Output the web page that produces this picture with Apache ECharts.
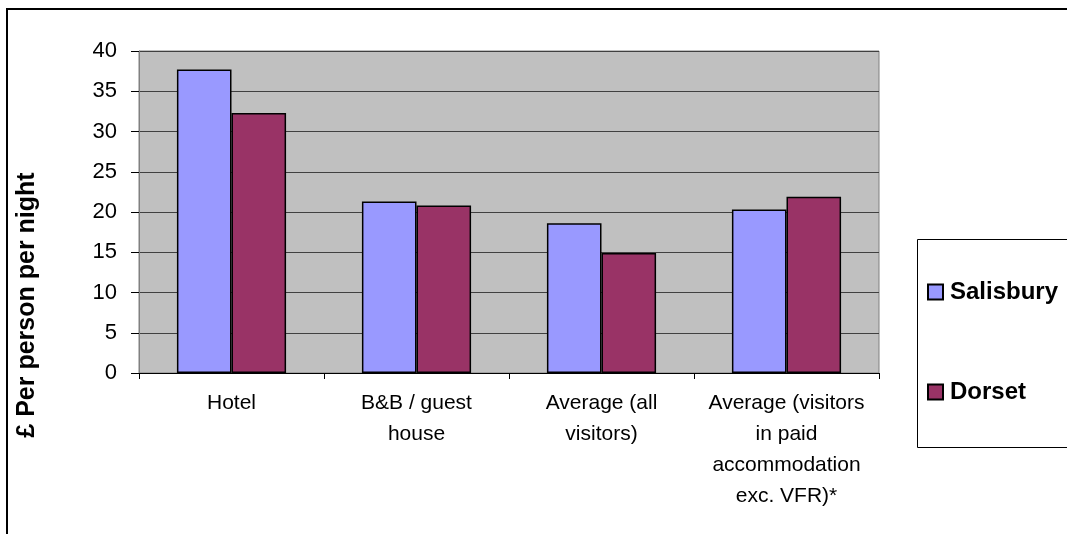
<!DOCTYPE html>
<html>
<head>
<meta charset="utf-8">
<script src="https://cdn.jsdelivr.net/npm/echarts@6/dist/echarts.min.js"></script>
<style>html,body{margin:0;padding:0;background:#fff}#c{width:1067px;height:534px}</style>
</head>
<body>
<div id="c"></div>
<script>
const categories = ["Hotel", "B&B / guest\nhouse", "Average (all\nvisitors)", "Average (visitors\nin paid\naccommodation\nexc. VFR)*"];
const salisbury = [37.7, 21.3, 18.6, 20.3];
const dorset = [32.3, 20.8, 14.9, 21.9];
const yTicks = { min: 0, max: 40, interval: 5 };
const yTitle = "£ Per person per night";

const FONT = "Arial, 'Liberation Sans', sans-serif";
const chart = echarts.init(document.getElementById('c'), null, { renderer: 'canvas' });
chart.setOption({
  animation: false,
  backgroundColor: '#ffffff',
  grid: {
    left: 139, right: 188, top: 51, bottom: 161,
    show: true, backgroundColor: '#c0c0c0', borderColor: '#808080', borderWidth: 1
  },
  legend: {
    orient: 'vertical',
    left: 927, top: 279, padding: 0,
    itemWidth: 15, itemHeight: 15, itemGap: 74,
    icon: 'rect',
    textStyle: { fontFamily: FONT, fontSize: 24, fontWeight: 'bold', color: '#000', lineHeight: 26, padding: [0, 0, 0, 2] },
    data: ['Salisbury', 'Dorset']
  },
  xAxis: {
    type: 'category',
    data: categories,
    axisLine: { lineStyle: { color: '#000', width: 1 } },
    axisTick: { show: true, length: 6, lineStyle: { color: '#000' } },
    axisLabel: { fontFamily: FONT, fontSize: 21, color: '#000', lineHeight: 31, margin: 15, interval: 0 },
    splitLine: { show: false }
  },
  yAxis: {
    type: 'value',
    min: yTicks.min, max: yTicks.max, interval: yTicks.interval,
    axisLine: { show: true, lineStyle: { color: '#808080', width: 1 } },
    axisTick: { show: true, length: 8, lineStyle: { color: '#000' } },
    axisLabel: { fontFamily: FONT, fontSize: 22, color: '#000', margin: 22 },
    splitLine: { show: true, lineStyle: { color: '#404040', width: 1 } }
  },
  series: [
    {
      name: 'Salisbury', type: 'bar', data: salisbury,
      barGap: '0%', barCategoryGap: '41%',
      itemStyle: { color: '#9999ff', borderColor: '#000', borderWidth: 1.5 }
    },
    {
      name: 'Dorset', type: 'bar', data: dorset,
      barGap: '0%', barCategoryGap: '41%',
      itemStyle: { color: '#993366', borderColor: '#000', borderWidth: 1.5 }
    }
  ],
  graphic: [
    {
      type: 'rect', silent: true, z: -1,
      shape: { x: 7, y: 9, width: 1300, height: 1000 },
      style: { fill: 'none', stroke: '#000', lineWidth: 2 }
    },
    {
      type: 'rect', silent: true, z: 0,
      shape: { x: 917.5, y: 239.5, width: 300, height: 208 },
      style: { fill: '#fff', stroke: '#000', lineWidth: 1 }
    },
    {
      type: 'text', silent: true,
      x: 27, y: 305, rotation: Math.PI / 2,
      style: { text: yTitle, fontFamily: FONT, fontSize: 25, fontWeight: 'bold', fill: '#000', align: 'center', verticalAlign: 'middle' }
    }
  ]
});
</script>
</body>
</html>
